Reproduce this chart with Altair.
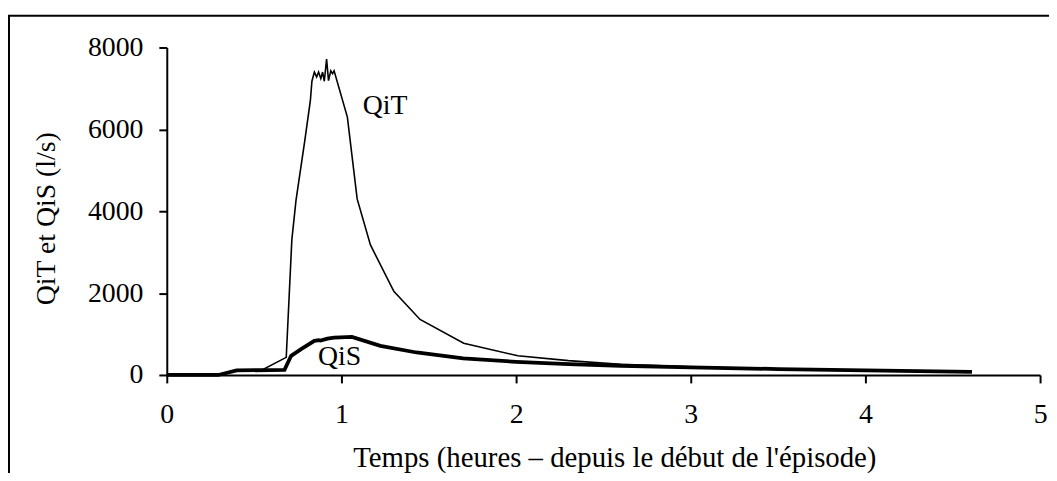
import altair as alt
import pandas as pd

# QiT (thin line)
qit_t = [0, 0.30, 0.37, 0.40, 0.54, 0.684, 0.716, 0.74, 0.79, 0.822, 0.831, 0.845, 0.858,
         0.869, 0.882, 0.892, 0.902, 0.915, 0.926, 0.939, 0.949, 0.958, 1.034, 1.09, 1.166,
         1.30, 1.45, 1.70, 2.01, 2.30, 2.60, 3.0, 3.5, 4.0, 4.61]
qit_v = [0, 0, 80, 110, 110, 430, 3300, 4270, 5720, 6700, 7175, 7400, 7280,
         7400, 7240, 7400, 7175, 7717, 7190, 7430, 7360, 7430, 6300, 4300, 3176,
         2044, 1357, 776, 468, 350, 260, 200, 150, 110, 80]

# QiS (thick line)
qis_t = [0, 0.295, 0.40, 0.674, 0.712, 0.769, 0.845, 0.87, 0.88, 0.92, 0.958, 1.06,
         1.223, 1.43, 1.697, 2.0, 2.3, 2.6, 3.0, 3.5, 4.0, 4.61]
qis_v = [0, 0, 110, 125, 468, 630, 832, 850, 840, 889, 913, 929,
         711, 549, 404, 320, 265, 225, 185, 145, 110, 75]

label_names = ["QiT", "QiS"]
label_t = [1.25, 0.989]
label_v = [6375, 245]

x_ticks = [0, 1, 2, 3, 4, 5]
y_ticks = [0, 2000, 4000, 6000, 8000]

FONT = "Liberation Serif"

df_t = pd.DataFrame({"t": qit_t, "v": qit_v})
df_s = pd.DataFrame({"t": qis_t, "v": qis_v})
df_l = pd.DataFrame({"name": label_names, "t": label_t, "v": label_v})

xscale = alt.Scale(domain=[0, 5], nice=False)
yscale = alt.Scale(domain=[0, 8000], nice=False)

xaxis = alt.Axis(values=x_ticks, format="d", title="Temps (heures – depuis le début de l'épisode)",
                 labelFlush=False, labelPadding=18, titleX=451, titleY=92,
                 titleBaseline="alphabetic", titleAnchor="middle", titleFontSize=29)
yaxis = alt.Axis(values=y_ticks, format="d", title="QiT et QiS (l/s)",
                 labelPadding=16, titleX=-113, titleY=172, titleBaseline="alphabetic",
                 titleAngle=270)

line_t = alt.Chart(df_t).mark_line(color="black", strokeWidth=1.6).encode(
    x=alt.X("t:Q", scale=xscale, axis=xaxis),
    y=alt.Y("v:Q", scale=yscale, axis=yaxis),
    order="t:Q",
)
line_s = alt.Chart(df_s).mark_line(color="black", strokeWidth=3.8).encode(
    x=alt.X("t:Q", scale=xscale),
    y=alt.Y("v:Q", scale=yscale),
    order="t:Q",
)
labels = alt.Chart(df_l).mark_text(font=FONT, fontSize=28, color="black",
                                   baseline="alphabetic", align="center").encode(
    x=alt.X("t:Q", scale=xscale),
    y=alt.Y("v:Q", scale=yscale),
    text="name:N",
)

dummy = alt.Data(values=[{"a": 1}])
border_left = alt.Chart(dummy).mark_rule(color="black", strokeWidth=2).encode(
    x=alt.value(-159), y=alt.value(-32), y2=alt.value(440)
)
border_top = alt.Chart(dummy).mark_rule(color="black", strokeWidth=2).encode(
    x=alt.value(-160), x2=alt.value(900), y=alt.value(-32)
)

chart = alt.layer(border_left, border_top, line_t, line_s, labels).properties(
    width=880, height=330,
    autosize="none",
    padding={"left": 160, "top": 38, "right": 9, "bottom": 97},
).configure_view(stroke=None).configure_axis(
    grid=False,
    domainColor="black", domainWidth=2,
    tickColor="black", tickWidth=2, tickSize=8,
    labelFont=FONT, labelFontSize=28, labelColor="black",
    titleFont=FONT, titleFontSize=28, titleColor="black", titleFontWeight="normal",
    labelOverlap=False,
)

chart.save("out.html", embed_options={"renderer": "svg", "actions": False})
